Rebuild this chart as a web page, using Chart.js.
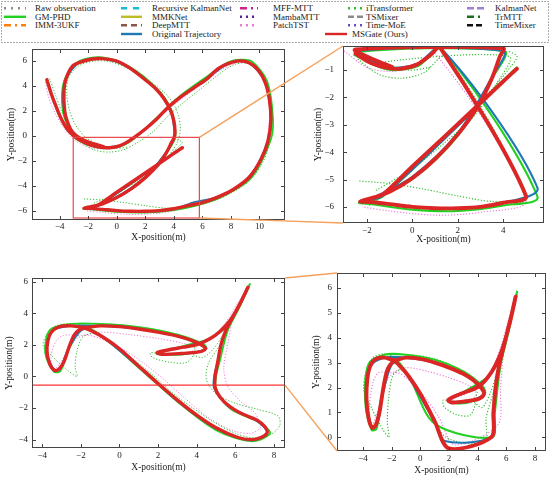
<!DOCTYPE html>
<html>
<head>
<meta charset="utf-8">
<script src="https://cdn.jsdelivr.net/npm/chart.js@4.4.1/dist/chart.umd.min.js"></script>
<style>
  html, body { margin: 0; padding: 0; background: #fff; }
  #page { position: relative; width: 550px; height: 479px; overflow: hidden; }
  canvas, svg { position: absolute; }
</style>
</head>
<body>
<div id="page">
  <svg id="legend" width="550" height="44" style="left:0;top:0"></svg>
  <canvas id="tl" width="290" height="199" style="left:0;top:44px"></canvas>
  <canvas id="tr" width="260" height="205" style="left:290px;top:40px"></canvas>
  <canvas id="bl" width="290" height="218" style="left:0;top:255px"></canvas>
  <canvas id="br" width="260" height="221" style="left:290px;top:255px"></canvas>
  <svg id="links" width="550" height="479" style="left:0;top:0;pointer-events:none"></svg>
</div>
<script>
// Series names (legend order, column by column)
const seriesNames = ['Raw observation', 'GM-PHD', 'IMM-3UKF', 'Recursive KalmanNet', 'MMKNet', 'DeepMTT',
  'Original Trajectory', 'MFF-MTT', 'MambaMTT', 'PatchTST', 'iTransformer', 'TSMixer', 'Time-MoE',
  'KalmanNet', 'TrMTT', 'TimeMixer', 'MSGate (Ours)'];

// Tick labels
const tlXTicks = [-4, -2, 0, 2, 4, 6, 8, 10];
const tlYTicks = [-6, -4, -2, 0, 2, 4, 6];
const trXTicks = [-2, 0, 2, 4];
const trYTicks = [-6, -5, -4, -3, -2, -1];
const blXTicks = [-4, -2, 0, 2, 4, 6, 8];
const blYTicks = [-4, -2, 0, 2, 4, 6];
const brXTicks = [-4, -2, 0, 2, 4, 6, 8];
const brYTicks = [0, 1, 2, 3, 4, 5, 6];

// Zoom windows (x range, y range)
const topWinX = [-3.05, 5.79];
const topWinY = [-6.59, -0.12];
const botWinX = [-5.81, 8.77];
const botWinY = [-0.55, 6.6];

// ---- Top scene (null = new target) ----
const topOursX = [-4.9, -4.6, -4.3, -3.9, -3.5, -3.0, -2.5, -1.8, -1.1, -0.5, 0.2, 0.8, 1.2, 2.0, 2.8, 3.6, 4.4, 5.4, 6.3, 7.1,
  7.8, 8.6, 9.3, 9.9, 10.4, 10.7, 10.8, 10.6, 10.1, 9.3, 8.3, 7.2, 6.0, 5.0, 4.0, 3.0, 2.0, 1.0, 0.0, -1.0,
  -1.8, -2.3, -1.8, -1.3, 0.0, 1.4, 2.8, 3.9, 4.4, 4.6, null,
  -1.9, -1.0, 0.0, 1.0, 2.0, 2.9, 3.5, 3.85, 4.0, 4.08, 4.0, 3.75, 3.3, 2.8, 2.1, 0.9, 0.0, -1.0, -1.8, -2.6,
  -3.1, -3.55, -3.7, -3.65, -3.45, -3.1, -2.5, -1.6, -0.9];
const topOursY = [4.5, 3.4, 2.5, 1.4, 0.6, 0.0, -0.4, -0.75, -0.92, -0.95, -0.8, -0.45, -0.15, 0.55, 1.35, 2.3, 3.05, 3.85, 4.55, 5.4,
  5.8, 6.02, 5.85, 5.3, 4.3, 2.9, 1.3, -0.4, -1.9, -3.3, -4.2, -4.85, -5.35, -5.6, -5.85, -6.0, -6.05, -6.05, -6.0, -5.9,
  -5.82, -5.8, -5.68, -5.55, -4.52, -3.44, -2.35, -1.49, -1.1, -0.95, null,
  -5.72, -5.45, -4.95, -4.25, -3.35, -2.3, -1.3, -0.5, -0.2, 0.3, 1.2, 2.1, 3.0, 3.7, 4.4, 5.45, 6.0, 6.2, 6.15, 5.9,
  5.6, 4.6, 3.6, 2.0, 1.1, 0.3, -0.25, -0.65, -0.88];

const topOrigX = [-4.85, -4.3, -3.5, -2.5, -1.1, 0.2, 1.2, 2.8, 4.4, 6.3, 7.8, 8.6, 9.3, 10.4, 10.8, 10.6, 9.3, 7.2, 5.5, 4.0,
  2.0, 0.0, -1.8, -2.3, -1.3, 4.4, 4.6, null,
  -1.8, 0.0, 2.0, 3.5, 4.0, 4.05, 3.75, 2.8, 0.9, -1.0, -2.6, -3.6, -3.7, -3.1, -2.4, -1.2];
const topOrigY = [4.45, 2.5, 0.6, -0.4, -0.9, -0.78, -0.16, 1.35, 3.05, 4.6, 5.8, 6.0, 5.85, 4.3, 1.3, -0.4, -3.3, -4.85, -5.3, -5.85,
  -6.05, -6.0, -5.82, -5.8, -5.6, -1.1, -0.95, null,
  -5.7, -4.9, -3.3, -1.25, -0.3, 0.3, 2.1, 3.7, 5.45, 6.2, 5.9, 4.4, 2.0, 0.3, -0.3, -0.85];

const topGmphdX = [-4.9, -4.35, -3.55, -2.55, -1.1, 0.25, 1.25, 2.75, 4.35, 6.25, 7.8, 8.7, 9.5, 10.55, 10.95, 10.75, 9.4, 7.25, 5.5, 4.0,
  2.0, 0.0, -1.8, -2.35, -1.3, 4.4, 4.6, null,
  -1.85, 0.05, 2.05, 3.55, 4.05, 4.12, 3.82, 2.85, 0.9, -1.0, -2.65, -3.68, -3.78, -3.15, -2.45, -1.2];
const topGmphdY = [4.55, 2.5, 0.6, -0.45, -0.98, -0.85, -0.2, 1.4, 3.12, 4.7, 5.9, 6.12, 5.95, 4.35, 1.3, -0.45, -3.4, -4.95, -5.62, -5.95,
  -6.15, -6.1, -5.9, -5.85, -5.62, -1.05, -0.9, null,
  -5.75, -4.95, -3.35, -1.25, -0.3, 0.3, 2.1, 3.75, 5.55, 6.3, 5.98, 4.45, 2.0, 0.25, -0.35, -0.9];

const topITransX = [-4.7, -4.3, -3.8, -3.2, -2.4, -1.5, -0.5, 0.5, 1.5, 2.5, 3.6, 4.6, 5.8, 7.0, 8.2, 9.2, 10.1, 10.7, 10.9, 10.7,
  10.2, 9.3, 8.0, 6.6, 5.0, 3.5, 2.0, 0.5, -1.0, -2.4, null,
  -1.9, -1.0, 0.5, 2.0, 3.5, 4.3, 4.6, 4.2, null,
  -1.6, 0.0, 1.5, 2.8, 3.7, 4.25, 4.45, 4.35, 4.0, 3.4, 2.4, 1.0, -0.5, -1.6, -2.7, -3.4, -3.5, -3.3, -2.9, -2.2,
  -1.2, -0.2, 0.8];
const topITransY = [4.6, 3.3, 1.8, 0.5, -0.6, -1.15, -1.3, -1.1, -0.5, 0.3, 1.6, 2.6, 3.7, 4.8, 5.7, 5.8, 4.9, 3.2, 1.2, -0.6,
  -2.2, -3.6, -4.6, -5.3, -5.7, -5.8, -5.6, -5.35, -5.15, -5.05, null,
  -5.95, -5.4, -4.2, -3.0, -1.7, -0.9, -0.5, -0.3, null,
  -5.4, -4.6, -3.6, -2.6, -1.5, -0.5, 0.5, 1.5, 2.5, 3.4, 4.3, 5.3, 5.95, 6.0, 5.6, 4.6, 3.3, 2.0, 0.9, -0.1,
  -0.7, -1.0, -0.9];

const topPatchX = [-5.0, -4.8, -4.4, -3.8, -3.0, -2.0, -1.0, 0.0, 1.0, 2.2, 3.6, 5.4, 7.2, 8.6, 9.6, 10.4, 10.7, 10.5, 9.8, 8.6,
  7.0, 5.0, 3.0, 1.0, -1.0, -2.2];
const topPatchY = [4.3, 3.2, 2.0, 0.8, -0.3, -0.9, -1.05, -0.9, -0.4, 0.6, 2.1, 3.7, 5.2, 5.9, 5.6, 4.2, 2.0, -0.5, -2.4, -3.9,
  -4.9, -5.75, -6.2, -6.3, -6.15, -6.0];

// ---- Bottom scene ----
const botOursX = [6.65, 6.4, 6.1, 5.8, 5.5, 5.25, 5.1, 4.95, 4.95, 5.2, 5.7, 6.4, 7.1, 7.5, 7.65, 7.35, 6.8, 6.1, 5.0, 4.0,
  3.0, 2.0, 1.0, 0.0, -0.8, -1.4, -1.85, -2.3, -2.6, -2.85, -3.1, -3.35, -3.6, -3.75, -3.7, -3.5, -3.1, -2.5, -1.8, -1.0,
  0.0, 1.0, 2.0, 3.0, 3.8, 4.3, 4.45, 4.1, 3.2, 2.2, 1.95, 2.4, 3.3, 4.1, 4.7, 5.2, 5.7, 6.2, 6.6];
const botOursY = [5.65, 5.0, 4.3, 3.6, 2.9, 2.0, 1.0, 0.0, -0.7, -1.3, -1.9, -2.4, -2.75, -3.15, -3.55, -3.85, -4.0, -3.85, -3.25, -2.45,
  -1.5, -0.45, 0.65, 1.75, 2.45, 2.85, 3.05, 2.7, 1.9, 1.0, 0.5, 0.38, 0.75, 1.5, 2.3, 2.85, 3.15, 3.2, 3.1, 3.2,
  3.15, 3.0, 2.8, 2.55, 2.25, 1.95, 1.75, 1.55, 1.45, 1.4, 1.5, 1.65, 1.85, 2.05, 2.4, 2.85, 3.5, 4.5, 5.5];

const botOrigX = [6.6, 6.1, 5.5, 5.1, 4.9, 4.9, 5.7, 7.1, 7.65, 6.8, 5.0, 3.0, 1.7, 1.0, -0.8, -1.85, -2.6, -3.1, -3.35, -3.75,
  -3.5, -2.5, -1.0, 1.0, 3.0, 4.3, 4.4, 3.2, 1.95, 3.3, 4.7, 5.7, 6.6];
const botOrigY = [5.6, 4.3, 2.9, 1.0, 0.0, -0.75, -1.95, -2.8, -3.6, -4.05, -3.3, -1.55, -0.15, 0.6, 2.4, 3.0, 1.85, 0.45, 0.35, 1.5,
  2.85, 3.2, 3.2, 3.0, 2.55, 1.95, 1.7, 1.42, 1.48, 1.85, 2.4, 3.5, 5.5];

const botGmphdX = [6.75, 6.2, 5.6, 5.2, 5.0, 5.0, 5.75, 7.2, 7.8, 6.85, 5.0, 3.0, 1.0, -0.8, -1.85, -2.55, -3.05, -3.4, -3.85, -3.6,
  -2.5, -1.0, 1.0, 3.0, 4.35, 4.5, 3.2, 1.9, 3.3, 4.75, 5.8, 6.75];
const botGmphdY = [5.85, 4.35, 2.9, 1.0, 0.0, -0.8, -2.05, -2.9, -3.6, -4.1, -3.4, -1.6, 0.55, 2.45, 3.15, 1.9, 0.35, 0.3, 1.5, 2.95,
  3.32, 3.32, 3.12, 2.65, 2.05, 1.75, 1.38, 1.45, 1.92, 2.45, 3.5, 5.85];

const botITransX = [6.8, 6.3, 5.7, 5.2, 4.6, 4.5, 5.0, 6.0, 7.2, 8.2, 8.3, 7.8, 7.0, 6.0, 4.9, 3.8, 2.8, 1.8, 0.6, -0.5,
  -1.3, -1.9, -2.2, -2.3, -2.2, -2.8, -3.5, -3.95, -3.8, -3.3, -2.5, -1.6, -0.5, 1.0, 2.5, 3.6, 3.9, 3.5, 2.6, 1.7,
  1.6, 2.4, 3.5, 4.3, 4.9, 5.4, 5.9, 6.3, 6.75];
const botITransY = [5.85, 4.6, 3.3, 2.0, 0.8, -0.2, -1.1, -1.7, -2.1, -2.5, -3.1, -3.7, -3.9, -3.6, -2.9, -2.0, -1.1, 0.0, 1.2, 2.1,
  2.7, 2.5, 1.6, 0.6, 0.0, 0.5, 1.3, 1.9, 2.6, 3.2, 3.35, 3.2, 3.3, 3.15, 2.8, 2.4, 1.6, 0.9, 0.9, 1.2,
  1.5, 1.4, 1.5, 1.2, 1.8, 2.7, 3.6, 4.6, 5.7];

const botPatchX = [6.5, 5.9, 5.6, 5.4, 5.6, 6.2, 7.0, 7.3, 6.8, 5.8, 4.6, 3.4, 2.4, 1.3, 0.2, -0.8, -1.6, -2.2, -2.7, -3.1,
  -3.4, -3.55, -3.3, -2.9, -2.0, -1.0, 0.5, 2.0, 3.3, 4.0, 3.5, 2.5, 2.2, 3.2, 4.3, 5.0, 5.6, 6.1, 6.5];
const botPatchY = [5.4, 3.8, 2.0, 0.5, -0.6, -1.5, -2.3, -3.2, -3.6, -3.4, -2.6, -1.4, -0.3, 0.8, 1.7, 2.3, 2.6, 2.4, 1.6, 0.8,
  0.45, 1.2, 2.2, 2.6, 2.6, 2.8, 2.65, 2.4, 2.1, 1.8, 1.5, 1.35, 1.5, 1.75, 2.1, 2.7, 3.6, 4.6, 5.4];

// Styles
const seriesColors = {
  'Raw observation': '#8c8c8c', 'GM-PHD': '#22d022', 'IMM-3UKF': '#ff7f0e', 'Recursive KalmanNet': '#17becf',
  'MMKNet': '#bcbd22', 'DeepMTT': '#8c564b', 'Original Trajectory': '#1f77b4', 'MFF-MTT': '#d0208c',
  'MambaMTT': '#5a1e9a', 'PatchTST': '#f07ad8', 'iTransformer': '#2fbf2f', 'TSMixer': '#8a8a8a',
  'Time-MoE': '#6a4bc4', 'KalmanNet': '#a27fd6', 'TrMTT': '#1a6e1a', 'TimeMixer': '#111111', 'MSGate (Ours)': '#dc2626'
};
const seriesDash = {
  'Raw observation': [2, 5], 'GM-PHD': [], 'IMM-3UKF': [7, 4, 2, 4], 'Recursive KalmanNet': [6, 6],
  'MMKNet': [], 'DeepMTT': [6, 4], 'Original Trajectory': [], 'MFF-MTT': [7, 4, 2, 4],
  'MambaMTT': [2, 4], 'PatchTST': [2, 4], 'iTransformer': [2, 4], 'TSMixer': [6, 3],
  'Time-MoE': [2, 4], 'KalmanNet': [7, 3], 'TrMTT': [7, 4, 2, 4], 'TimeMixer': [6, 3], 'MSGate (Ours)': []
};
const plotStyle = {
  'MSGate (Ours)': {w: 3.4, dash: [], order: 0},
  'Original Trajectory': {w: 1.8, dash: [], order: 1},
  'GM-PHD': {w: 1.8, dash: [], order: 2},
  'iTransformer': {w: 1, dash: [1.2, 1.8], order: 3},
  'PatchTST': {w: 1, dash: [1.2, 1.8], order: 4}
};

// ---- Legend ----
const NS = 'http://www.w3.org/2000/svg';
function svgEl(parent, tag, attrs, text) {
  const e = document.createElementNS(NS, tag);
  for (const k in attrs) e.setAttribute(k, attrs[k]);
  if (text !== undefined) e.textContent = text;
  parent.appendChild(e);
  return e;
}
const legend = document.getElementById('legend');
svgEl(legend, 'rect', {x: 1.5, y: 1.5, width: 547, height: 41, fill: 'none', stroke: '#777', 'stroke-width': 1, 'stroke-dasharray': '1.2,1.8'});
const colSym = [[4, 26], [121, 142], [240, 258], [348, 363], [467, 484], [325, 347]];
const colText = [35, 152, 273, 366, 495, 352];
const rowY = [8.3, 16.8, 25.2, 34];
const slot = [[0, 0], [0, 1], [0, 2], [1, 0], [1, 1], [1, 2], [1, 3], [2, 0], [2, 1], [2, 2],
  [3, 0], [3, 1], [3, 2], [4, 0], [4, 1], [4, 2], [5, 3]];
seriesNames.forEach((name, i) => {
  const [c, r] = slot[i];
  const y = rowY[r];
  svgEl(legend, 'line', {x1: colSym[c][0], x2: colSym[c][1], y1: y, y2: y, stroke: seriesColors[name],
    'stroke-width': 2.4, 'stroke-dasharray': seriesDash[name].join(',') || 'none'});
  svgEl(legend, 'text', {x: colText[c], y: y + 3, 'font-family': 'Liberation Serif', 'font-size': 9, fill: '#222'}, name);
});

// ---- Charts ----
function joinPts(xs, ys) {
  return xs.map((x, i) => x === null ? {x: null, y: null} : {x, y: ys[i]});
}
// zoom views keep only the samples inside the window, like the original figure does
function clipWin(xs, ys, win) {
  const out = [];
  xs.forEach((x, i) => {
    if (x === null) {
      if (out.length && out[out.length - 1].x !== null) out.push({x: null, y: null});
      return;
    }
    const y = ys[i];
    if (x >= win.x[0] && x <= win.x[1] && y >= win.y[0] && y <= win.y[1]) out.push({x, y});
  });
  return out;
}
function lines(series, win) {
  return series.map(s => {
    const st = plotStyle[s.name];
    return {
      label: s.name,
      data: win ? clipWin(s.xs, s.ys, win) : joinPts(s.xs, s.ys),
      showLine: true, pointRadius: 0, spanGaps: false, tension: 0.3,
      borderColor: seriesColors[s.name], borderWidth: win ? st.w * 1.15 : st.w, borderDash: st.dash, order: st.order,
      borderCapStyle: st.dash.length ? 'butt' : 'round', borderJoinStyle: 'round'
    };
  });
}

const frameTicks = {
  id: 'frameTicks',
  afterDatasetsDraw(chart) {
    const {ctx, chartArea: a, scales: {x, y}} = chart;
    ctx.save();
    ctx.strokeStyle = '#444';
    ctx.lineWidth = 1;
    ctx.strokeRect(Math.round(a.left) + 0.5, Math.round(a.top) + 0.5, Math.round(a.width) - 1, Math.round(a.height) - 1);
    ctx.beginPath();
    x.ticks.forEach(t => {
      const p = Math.round(x.getPixelForValue(t.value)) + 0.5;
      ctx.moveTo(p, a.bottom); ctx.lineTo(p, a.bottom - 4);
      ctx.moveTo(p, a.top); ctx.lineTo(p, a.top + 4);
    });
    y.ticks.forEach(t => {
      const p = Math.round(y.getPixelForValue(t.value)) + 0.5;
      ctx.moveTo(a.left, p); ctx.lineTo(a.left + 4, p);
      ctx.moveTo(a.right, p); ctx.lineTo(a.right - 4, p);
    });
    ctx.stroke();
    ctx.restore();
  }
};

const zoomMark = {
  id: 'zoomMark',
  afterDatasetsDraw(chart, args, o) {
    if (!o || !o.wx) return;
    const {ctx, chartArea: a, scales: {x, y}} = chart;
    ctx.save();
    ctx.beginPath();
    ctx.rect(a.left, a.top, a.width, a.height);
    ctx.clip();
    const l = x.getPixelForValue(o.wx[0]), r = x.getPixelForValue(o.wx[1]);
    const t = y.getPixelForValue(o.wy[1]), b = y.getPixelForValue(o.wy[0]);
    ctx.strokeStyle = o.color;
    ctx.lineWidth = 1.2;
    ctx.strokeRect(l, t, r - l, b - t);
    ctx.restore();
  }
};

function axis(range, ticks, title, size, pad, vertical) {
  return {
    type: 'linear', min: range[0], max: range[1],
    afterBuildTicks: s => { s.ticks = ticks.map(v => ({value: v})); },
    afterFit: s => {
      if (vertical) s.width = size; else s.height = size;
      s.paddingTop = s.paddingBottom = s.paddingLeft = s.paddingRight = 0;
    },
    grid: {display: false, drawTicks: false}, border: {display: false},
    ticks: {
      padding: pad, color: '#222', autoSkip: false, maxRotation: 0,
      font: {family: 'Liberation Serif', size: 9},
      callback: v => String(v).replace('-', '\u2212')
    },
    title: {display: true, text: title, color: '#222', padding: 0, font: {family: 'Liberation Serif', size: 9.5}}
  };
}

function plot(id, o) {
  return new Chart(document.getElementById(id), {
    type: 'scatter',
    data: {datasets: o.datasets},
    options: {
      responsive: false, animation: false, events: [],
      layout: {padding: o.pad},
      plugins: {legend: {display: false}, tooltip: {enabled: false}, zoomMark: o.mark || {}},
      scales: {
        x: axis(o.xr, o.xt, 'X-position(m)', o.xH, o.xPad, false),
        y: axis(o.yr, o.yt, 'Y-position(m)', o.yW, o.yPad, true)
      }
    },
    plugins: [zoomMark, frameTicks]
  });
}

const topSeries = [
  {name: 'MSGate (Ours)', xs: topOursX, ys: topOursY},
  {name: 'Original Trajectory', xs: topOrigX, ys: topOrigY},
  {name: 'GM-PHD', xs: topGmphdX, ys: topGmphdY},
  {name: 'iTransformer', xs: topITransX, ys: topITransY},
  {name: 'PatchTST', xs: topPatchX, ys: topPatchY}
];
const botSeries = [
  {name: 'MSGate (Ours)', xs: botOursX, ys: botOursY},
  {name: 'Original Trajectory', xs: botOrigX, ys: botOrigY},
  {name: 'GM-PHD', xs: botGmphdX, ys: botGmphdY},
  {name: 'iTransformer', xs: botITransX, ys: botITransY},
  {name: 'PatchTST', xs: botPatchX, ys: botPatchY}
];
const topWin = {x: topWinX, y: topWinY};
const botWin = {x: botWinX, y: botWinY};

const tl = plot('tl', {
  datasets: lines(topSeries), pad: {left: 6, top: 5, right: 5, bottom: 0},
  xr: [-5.94, 11.79], yr: [-6.75, 6.97], xt: tlXTicks, yt: tlYTicks, xH: 23, yW: 26, xPad: 1, yPad: 5,
  mark: {wx: topWinX, wy: topWinY, color: '#e8474a'}
});
const tr = plot('tr', {
  datasets: lines(topSeries, topWin), pad: {left: 23, top: 6, right: 6, bottom: 0},
  xr: topWinX, yr: topWinY, xt: trXTicks, yt: trYTicks, xH: 22, yW: 30, xPad: 2, yPad: 9
});
const bl = plot('bl', {
  datasets: lines(botSeries), pad: {left: 4, top: 23, right: 5, bottom: 0},
  xr: [-4.53, 8.57], yr: [-4.53, 6.23], xt: blXTicks, yt: blYTicks, xH: 25, yW: 28, xPad: 2, yPad: 4,
  mark: {wx: botWinX, wy: botWinY, color: '#ff2a2a'}
});
const br = plot('br', {
  datasets: lines(botSeries, botWin), pad: {left: 21, top: 18, right: 4, bottom: 0},
  xr: botWinX, yr: botWinY, xt: brXTicks, yt: brYTicks, xH: 25, yW: 26, xPad: 2, yPad: 5
});

// ---- Zoom connectors ----
function pageXY(chart, vx, vy) {
  const a = chart.chartArea, c = chart.canvas;
  const px = Math.min(Math.max(chart.scales.x.getPixelForValue(vx), a.left), a.right);
  const py = Math.min(Math.max(chart.scales.y.getPixelForValue(vy), a.top), a.bottom);
  return [c.offsetLeft + px, c.offsetTop + py];
}
function corner(chart, which) {
  const a = chart.chartArea, c = chart.canvas;
  return [c.offsetLeft + a.left, c.offsetTop + (which === 'top' ? a.top : a.bottom)];
}
const links = document.getElementById('links');
function link(p, q) {
  svgEl(links, 'line', {x1: p[0], y1: p[1], x2: q[0], y2: q[1], stroke: '#f5a15c', 'stroke-width': 1.4});
}
link(pageXY(tl, topWinX[1], topWinY[1]), corner(tr, 'top'));
link(pageXY(tl, topWinX[1], topWinY[0]), corner(tr, 'bottom'));
link(pageXY(bl, botWinX[1], botWinY[1]), corner(br, 'top'));
link(pageXY(bl, botWinX[1], botWinY[0]), corner(br, 'bottom'));
</script>
</body>
</html>
